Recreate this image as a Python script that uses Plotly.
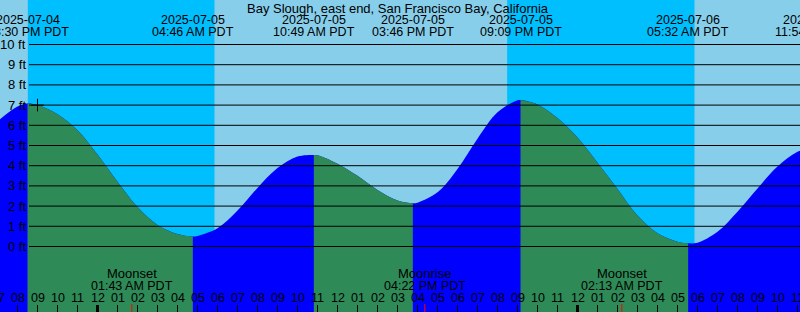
import plotly.graph_objects as go
import pandas as pd

# ---------------- data ----------------
title = "Bay Slough, east end, San Francisco Bay, California"

event_times = ["2025-07-04 20:30", "2025-07-05 04:46", "2025-07-05 10:49",
               "2025-07-05 15:46", "2025-07-05 21:09", "2025-07-06 05:32",
               "2025-07-06 11:54"]
event_dates = ["2025-07-04", "2025-07-05", "2025-07-05", "2025-07-05",
               "2025-07-05", "2025-07-06", "2025-07-06"]
event_clock = ["08:30 PM PDT", "04:46 AM PDT", "10:49 AM PDT", "03:46 PM PDT",
               "09:09 PM PDT", "05:32 AM PDT", "11:54 AM PDT"]
event_ft = [7.08, 0.49, 4.53, 2.14, 7.25, 0.16, 4.95]
event_kind = ["high", "low", "high", "low", "high", "low", "high"]

# hourly heights, 2025-07-04 19:00 .. 2025-07-06 11:00
hourly_start = "2025-07-04 19:00"
hourly_ft = [6.20, 6.93, 7.00, 6.55, 5.76,
             4.55, 3.20, 1.95, 1.07, 0.62, 0.52, 0.90, 1.78, 2.90, 3.88, 4.45, 4.52,
             4.10, 3.50, 2.80, 2.28, 2.17, 2.68, 3.84, 5.34, 6.64, 7.24, 7.03, 6.36,
             5.40, 4.15, 2.85, 1.53, 0.65, 0.24, 0.19, 0.73, 1.72, 2.87, 3.96, 4.69]

sun_events = ["2025-07-04 20:31", "2025-07-05 05:51", "2025-07-05 20:29", "2025-07-06 05:51"]
sun_kind = ["set", "rise", "set", "rise"]

moon_times = ["2025-07-05 01:43", "2025-07-05 16:22", "2025-07-06 02:13"]
moon_names = ["Moonset", "Moonrise", "Moonset"]
moon_clock = ["01:43 AM PDT", "04:22 PM PDT", "02:13 AM PDT"]

now_mark = ("2025-07-04 21:00", 7.0)

y_ticks = list(range(0, 11))
y_tick_labels = [f"{v} ft" for v in y_ticks]

x_range = ["2025-07-04 19:07:30", "2025-07-06 11:07:30"]
y_range = [-3.243, 12.203]

# ---------------- colours / fonts ----------------
DAY = "#87CEEB"
NIGHT = "#00BFFF"
RISING = "#0000FF"
FALLING = "#2E8B57"
FAM = "Liberation Sans, Arial, sans-serif"
FONT = dict(family=FAM, size=12.5, color="black")
FONT_BIG = dict(family=FAM, size=13, color="black")
W, H = 800, 312

# ---------------- build series ----------------
hourly_times = pd.date_range(hourly_start, periods=len(hourly_ft), freq="h")
pts = pd.DataFrame({"t": list(hourly_times) + list(pd.to_datetime(event_times)),
                    "ft": hourly_ft + event_ft})
pts = pts.sort_values("t").reset_index(drop=True)
ev_t = pd.to_datetime(event_times)

fig = go.Figure()

# rising (base) fill over whole range
base = -6
fig.add_trace(go.Scatter(x=[pts.t.iloc[0], pts.t.iloc[-1]], y=[base, base],
                         mode="lines", line=dict(width=0), hoverinfo="skip"))
fig.add_trace(go.Scatter(x=pts.t, y=pts.ft, mode="lines",
                         line=dict(width=0, shape="spline", smoothing=1),
                         fill="tonexty", fillcolor=RISING, hoverinfo="skip"))

# falling segments
for k in range(len(event_times) - 1):
    if event_kind[k] == "high" and event_kind[k + 1] == "low":
        seg = pts[(pts.t >= ev_t[k]) & (pts.t <= ev_t[k + 1])]
        fig.add_trace(go.Scatter(x=[ev_t[k], ev_t[k + 1]], y=[base, base],
                                 mode="lines", line=dict(width=0), hoverinfo="skip"))
        fig.add_trace(go.Scatter(x=seg.t, y=seg.ft, mode="lines",
                                 line=dict(width=0, shape="spline", smoothing=1),
                                 fill="tonexty", fillcolor=FALLING, hoverinfo="skip"))

# current-time mark
fig.add_trace(go.Scatter(x=[now_mark[0]], y=[now_mark[1]], mode="markers",
                         marker=dict(symbol="cross-thin", size=9,
                                     line=dict(width=1, color="black")),
                         hoverinfo="skip"))

shapes = []
# night backgrounds
sun_t = pd.to_datetime(sun_events)
for i, kind in enumerate(sun_kind):
    if kind == "set":
        end = sun_t[i + 1] if i + 1 < len(sun_t) else pd.Timestamp(x_range[1])
        shapes.append(dict(type="rect", xref="x", yref="paper", x0=sun_t[i], x1=end,
                           y0=0, y1=1, fillcolor=NIGHT, line=dict(width=0), layer="below"))

# horizontal grid lines (start right of the labels)
for v in y_ticks:
    shapes.append(dict(type="line", xref="paper", yref="y", x0=29 / W, x1=1,
                       y0=v, y1=v, line=dict(color="black", width=1), layer="above"))

# hour ticks
hours = pd.date_range("2025-07-04 19:00", "2025-07-06 11:00", freq="h")
for t in hours:
    midnight = t.hour == 0
    shapes.append(dict(type="line", xref="x", yref="paper", x0=t, x1=t,
                       y0=0, y1=7 / H,
                       line=dict(color="black", width=3 if midnight else 1), layer="above"))
# moon ticks
for t in pd.to_datetime(moon_times):
    shapes.append(dict(type="line", xref="x", yref="paper", x0=t, x1=t,
                       y0=0, y1=8 / H, line=dict(color="red", width=1), layer="above"))

# annotations
r0, r1 = pd.Timestamp(x_range[0]), pd.Timestamp(x_range[1])


def xpos(t):
    t = pd.Timestamp(t)
    if r0 <= t <= r1:
        return "x", t
    return "paper", (t - r0) / (r1 - r0)


def ypx(px):
    return 1 - px / H


ann = []
ann.append(dict(text=title, xref="paper", x=0.4975, yref="paper", y=ypx(8),
                xanchor="center", yanchor="middle", showarrow=False, font=FONT_BIG))
for t, d, c in zip(event_times, event_dates, event_clock):
    xr, xv = xpos(t)
    ann.append(dict(text=d, xref=xr, x=xv, yref="paper", y=ypx(20),
                    xanchor="center", yanchor="middle", showarrow=False, font=FONT))
    ann.append(dict(text=c, xref=xr, x=xv, yref="paper", y=ypx(32),
                    xanchor="center", yanchor="middle", showarrow=False, font=FONT))
for t, n, c in zip(moon_times, moon_names, moon_clock):
    xr, xv = xpos(t)
    ann.append(dict(text=n, xref=xr, x=xv, yref="paper", y=ypx(273.5),
                    xanchor="center", yanchor="middle", showarrow=False, font=FONT_BIG))
    ann.append(dict(text=c, xref=xr, x=xv, yref="paper", y=ypx(285.5),
                    xanchor="center", yanchor="middle", showarrow=False, font=FONT))
for t in hours:
    xr, xv = xpos(t)
    ann.append(dict(text=t.strftime("%I"), xref=xr, x=xv, yref="paper", y=ypx(298),
                    xanchor="center", yanchor="middle", showarrow=False, font=FONT))
for v, lab in zip(y_ticks, y_tick_labels):
    ann.append(dict(text=lab, xref="paper", x=28.5 / W, yref="y", y=v,
                    xanchor="right", yanchor="middle", showarrow=False, font=FONT_BIG))

fig.update_layout(
    width=W, height=H, margin=dict(l=0, r=0, t=0, b=0, pad=0),
    paper_bgcolor=DAY, plot_bgcolor=DAY, showlegend=False,
    xaxis=dict(type="date", range=x_range, visible=False, fixedrange=True),
    yaxis=dict(range=y_range, visible=False, fixedrange=True),
    shapes=shapes, annotations=ann, font=FONT,
)

fig.write_html("out.html", config={"displayModeBar": False})
